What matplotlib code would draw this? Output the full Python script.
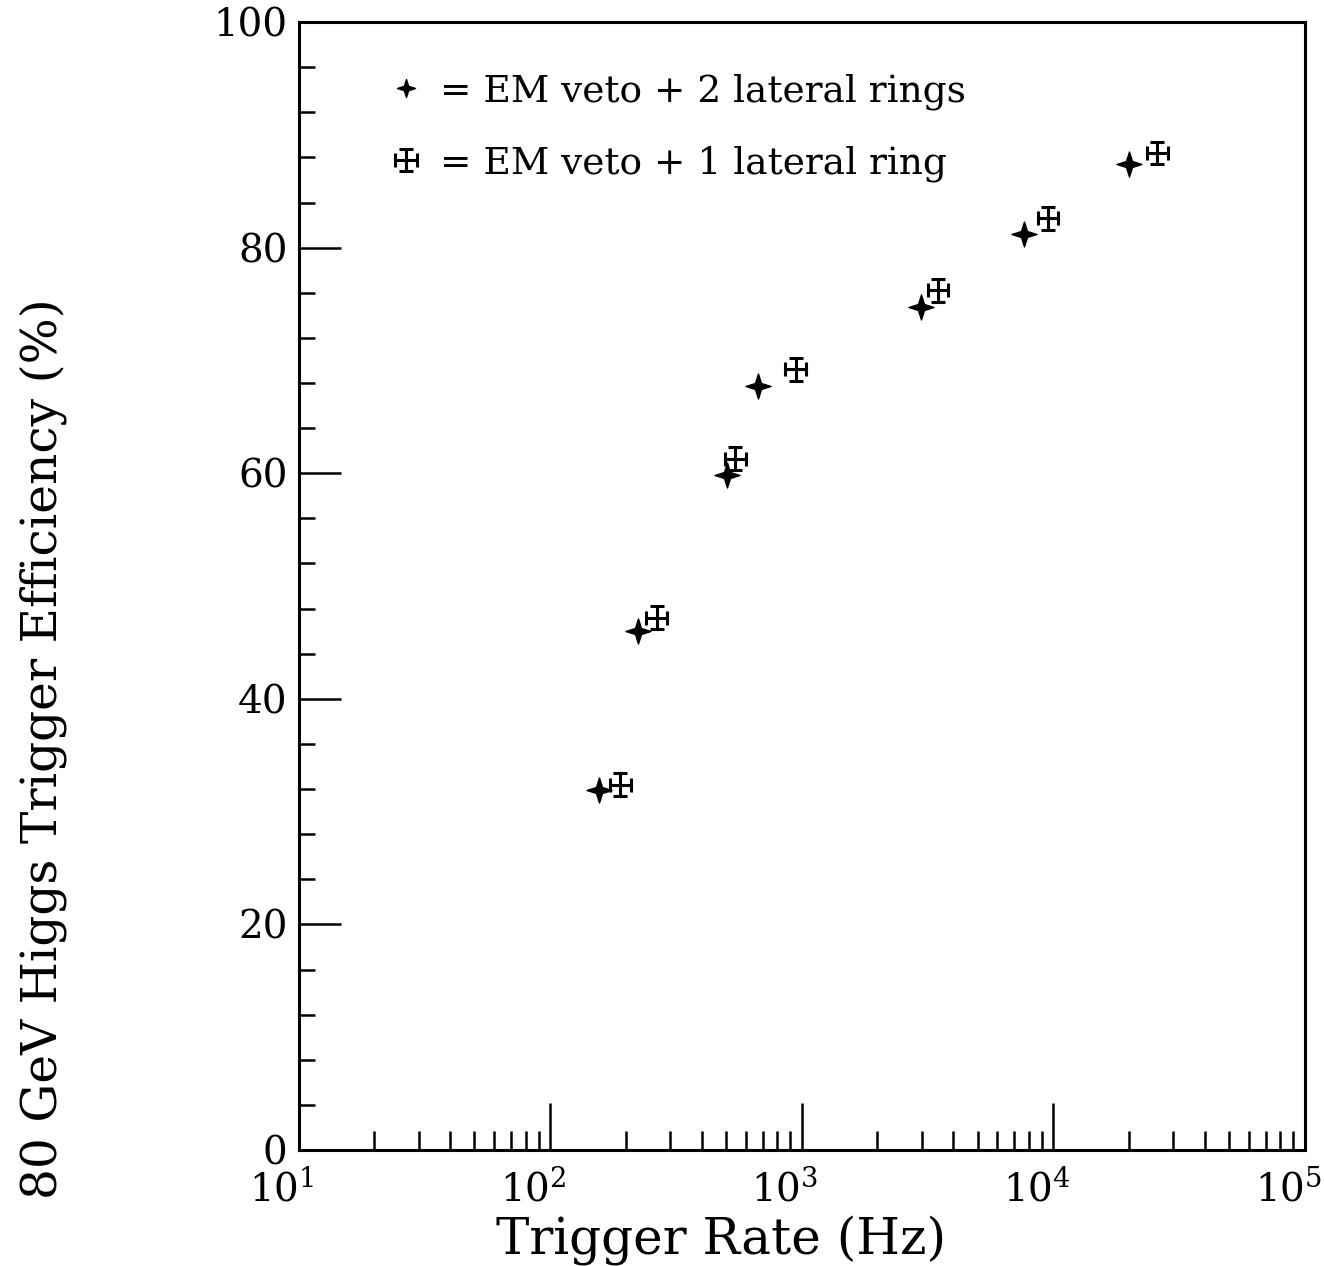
import matplotlib
matplotlib.use("Agg")
import matplotlib.pyplot as plt
import matplotlib.transforms as mtransforms
import numpy as np
from matplotlib.path import Path
from matplotlib.lines import Line2D
from matplotlib.container import ErrorbarContainer
from matplotlib.legend_handler import HandlerErrorbar
from matplotlib.ticker import LogLocator, MultipleLocator, NullFormatter

# EM veto + 2 lateral rings (star markers)
rate_2rings = [157, 223, 505, 673, 2970, 7660, 20000]
eff_2rings = [31.9, 46.0, 59.8, 67.7, 74.7, 81.2, 87.4]

# EM veto + 1 lateral ring (points with error bars)
rate_1ring = [190, 265, 545, 948, 3480, 9530, 25900]
eff_1ring = [32.4, 47.2, 61.3, 69.2, 76.2, 82.6, 88.4]
rate_rel_err = [0.10, 0.10, 0.10, 0.10, 0.10, 0.10, 0.10]
eff_err = [1.0, 1.0, 1.0, 1.0, 1.0, 1.0, 1.0]

LABEL_2 = "= EM veto + 2 lateral rings"
LABEL_1 = "= EM veto + 1 lateral ring"

plt.rcParams["font.family"] = "DejaVu Serif"
plt.rcParams["mathtext.fontset"] = "dejavuserif"

# four-pointed star with concave sides
a = 0.24
star = Path([(0, 1), (a, a), (1, 0), (a, -a), (0, -1), (-a, -a), (-1, 0), (-a, a), (0, 1)],
            [Path.MOVETO] + [Path.LINETO] * 7 + [Path.CLOSEPOLY])

fig = plt.figure(figsize=(13.24, 12.66), dpi=100)
ax = fig.add_axes([0.2255, 0.0916, 0.76, 0.891])

ax.plot(rate_2rings, eff_2rings, linestyle="none", marker=star, markersize=18,
        color="black")

r1 = np.array(rate_1ring)
rel = np.array(rate_rel_err)
xerr = [r1 - r1 / (1 + rel), r1 * rel]
eb = ax.errorbar(rate_1ring, eff_1ring, xerr=xerr, yerr=eff_err, fmt="none",
                 ecolor="black", elinewidth=2.2, capsize=5, capthick=2.2)

ax.set_xscale("log")
ax.set_xlim(10, 1e5)
ax.set_ylim(0, 100)

ax.xaxis.set_major_locator(LogLocator(base=10, numticks=10))
ax.xaxis.set_minor_locator(LogLocator(base=10, subs=np.arange(2, 10), numticks=10))
ax.xaxis.set_minor_formatter(NullFormatter())
ax.yaxis.set_major_locator(MultipleLocator(20))
ax.yaxis.set_minor_locator(MultipleLocator(4))

ax.tick_params(axis="both", which="both", direction="in", top=False, right=False,
               labelsize=28, width=1.8, color="black")
ax.tick_params(axis="x", which="major", length=34, pad=14)
ax.tick_params(axis="x", which="minor", length=14)
ax.tick_params(axis="y", which="major", length=30, pad=8)
ax.tick_params(axis="y", which="minor", length=11.5)

# the exponent labels sit a little left of their ticks, as in the original
shift = mtransforms.ScaledTranslation(-12 / 72, 0, fig.dpi_scale_trans)
for lab in ax.get_xticklabels():
    lab.set_transform(lab.get_transform() + shift)
# the "0" sits left of the others, above the 10^1
zero_shift = mtransforms.ScaledTranslation(-14 / 72, 3 / 72, fig.dpi_scale_trans)
ylabs = ax.get_yticklabels()
ylabs[0].set_transform(ylabs[0].get_transform() + zero_shift)

for sp in ax.spines.values():
    sp.set_linewidth(2.2)

ax.set_xlabel("Trigger Rate (Hz)", fontsize=36)
ax.xaxis.label.set_va("baseline")
ax.xaxis.set_label_coords(0.42, -0.092)
ax.set_ylabel("80 GeV Higgs Trigger Efficiency (%)", fontsize=35)
ax.yaxis.set_label_coords(-0.23, 0.356)

h2 = Line2D([], [], linestyle="none", marker=star, markersize=13, color="black")
ax.legend([h2, eb], [LABEL_2, LABEL_1], loc="upper left", frameon=False,
          fontsize=27, handlelength=0.9, handletextpad=0.45, labelspacing=0.95,
          borderaxespad=0.0, bbox_to_anchor=(0.075, 0.968),
          handler_map={ErrorbarContainer: HandlerErrorbar(xerr_size=0.3, yerr_size=0.3)})

fig.savefig("out.png", dpi=100)
